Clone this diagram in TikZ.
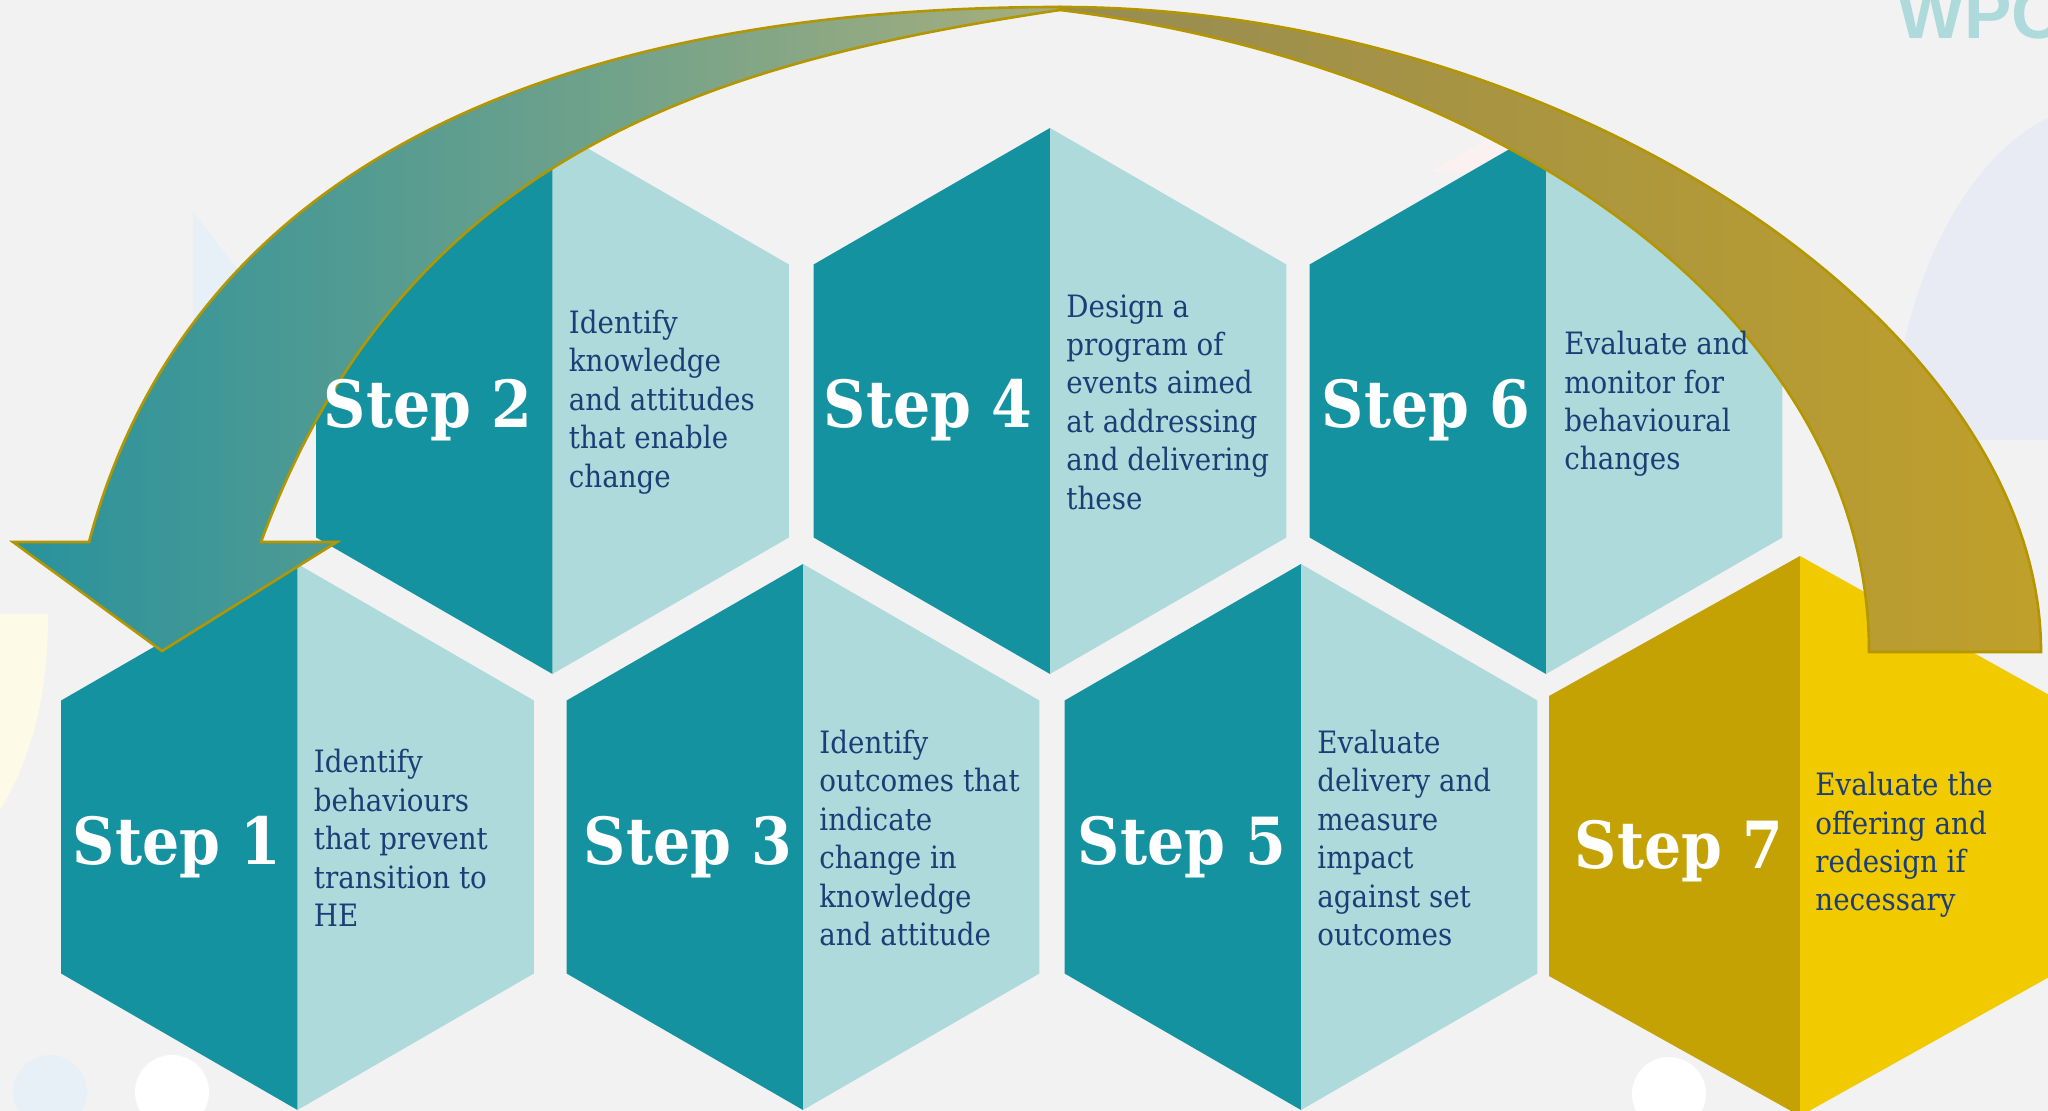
\documentclass[tikz,border=0pt]{standalone}
\usepackage{fontspec}
\setmainfont{DejaVu Serif}[FakeStretch=0.9]
\newfontfamily\wpcfont{Liberation Sans}
\definecolor{bgc}{RGB}{243,242,242}
\definecolor{tealD}{RGB}{21,146,160}
\definecolor{tealL}{RGB}{174,218,219}
\definecolor{goldD}{RGB}{196,162,4}
\definecolor{goldL}{RGB}{242,202,0}
\definecolor{navy}{RGB}{28,62,118}
\definecolor{arrline}{RGB}{179,150,0}
\definecolor{arrA}{RGB}{40,146,157}
\definecolor{arrB}{RGB}{168,174,124}
\definecolor{arrC}{RGB}{150,140,84}
\definecolor{arrD}{RGB}{188,158,48}
\definecolor{arrE}{RGB}{192,160,42}
\definecolor{lav}{RGB}{232,235,243}
\definecolor{lblue}{RGB}{232,240,247}
\definecolor{cream}{RGB}{253,251,232}
\definecolor{pinkish}{RGB}{250,241,240}
\newcommand\hexcell[6]{%
  \fill[#5] (#1,#2-#4) -- (#1-#3,#2-#4/2) -- (#1-#3,#2+#4/2) -- (#1,#2+#4) -- cycle;
  \fill[#6] (#1,#2-#4) -- (#1+#3,#2-#4/2) -- (#1+#3,#2+#4/2) -- (#1,#2+#4) -- cycle;
}
\tikzset{
  lbl/.style={font=\bfseries\fontsize{32.5}{32.5}\selectfont, text=white, anchor=base, inner sep=0pt},
  body/.style={font=\fontsize{15.4}{19.2}\selectfont, text=navy, anchor=west, align=left, inner sep=0pt},
  arrowedge/.style={draw=arrline, line width=1.3pt, line join=miter},
}
\begin{document}
\begin{tikzpicture}[x=0.5pt,y=-0.5pt]
\useasboundingbox (0,0) rectangle (2048,1111);
\clip (0,0) rectangle (2048,1111);
\fill[bgc] (0,0) rectangle (2048,1111);
% faint background decorations
\fill[lav] (2048,118) .. controls (1960,160) and (1895,300) .. (1893,440) -- (2048,440) -- cycle;
\fill[pinkish] (1430,172) -- (1525,118) -- (1525,172) -- cycle;
\fill[lblue] (193,212) -- (262,300) -- (193,320) -- cycle;
\fill[cream] (0,614) -- (48,614) .. controls (48,700) and (30,760) .. (0,810) -- cycle;
\fill[lblue] (50,1092) circle[radius=37];
\fill[white] (172,1092) circle[radius=37];
\fill[white] (1669,1094) circle[radius=37];
\node[font=\wpcfont\bfseries\fontsize{35.5}{35.5}\selectfont, text=tealL, anchor=base west, inner sep=0pt] (wpc) at (1897,39) {WPC};
% hexagons row 1
\hexcell{552.5}{401}{236.4}{273}{tealD}{tealL}
\hexcell{1050}{401}{236.4}{273}{tealD}{tealL}
\hexcell{1546}{401}{236.4}{273}{tealD}{tealL}
% hexagons row 2
\hexcell{297.5}{837}{236.4}{273}{tealD}{tealL}
\hexcell{803}{837}{236.4}{273}{tealD}{tealL}
\hexcell{1301}{837}{236.4}{273}{tealD}{tealL}
\hexcell{1800}{836}{251}{280}{goldD}{goldL}
% curved arrow: left piece (head)
\path[left color=arrA, right color=arrB, shading=axis, arrowedge]
  (261,542) -- (337,542) -- (162,651) -- (13,542) -- (89,542)
  .. controls (205,107) and (660,7) .. (1060,7) -- (1060,10)
  .. controls (713,62) and (405,152) .. (261,542) -- cycle;
% curved arrow: right piece (tail)
\path[left color=arrC, middle color=arrD, right color=arrE, shading=axis, arrowedge]
  (1060,7) .. controls (1560,7) and (2041,322) .. (2041,652)
  -- (1869,652) .. controls (1869,322) and (1507,65) .. (1060,10) -- cycle;
% labels
\node[lbl] (l1) at (177,864) {Step 1};
\node[lbl] (l2) at (428,428) {Step 2};
\node[lbl] (l3) at (688,864) {Step 3};
\node[lbl] (l4) at (928,428) {Step 4};
\node[lbl] (l5) at (1182,864) {Step 5};
\node[lbl] (l6) at (1426,428) {Step 6};
\node[lbl] (l7) at (1679,868) {Step 7};
% descriptions
\node[body] (t1) at (313.5,838) {Identify\\behaviours\\that prevent\\transition to\\HE};
\node[body] (t2) at (568.5,402) {Identify\\knowledge\\and attitudes\\that enable\\change};
\node[body] (t3) at (819,838) {Identify\\outcomes that\\indicate\\change in\\knowledge\\and attitude};
\node[body] (t4) at (1066,402) {Design a\\program of\\events aimed\\at addressing\\and delivering\\these};
\node[body] (t5) at (1317,838) {Evaluate\\delivery and\\measure\\impact\\against set\\outcomes};
\node[body] (t6) at (1564,404) {Evaluate and\\monitor for\\behavioural\\changes};
\node[body] (t7) at (1815,845) {Evaluate the\\offering and\\redesign if\\necessary};
\end{tikzpicture}
\end{document}
